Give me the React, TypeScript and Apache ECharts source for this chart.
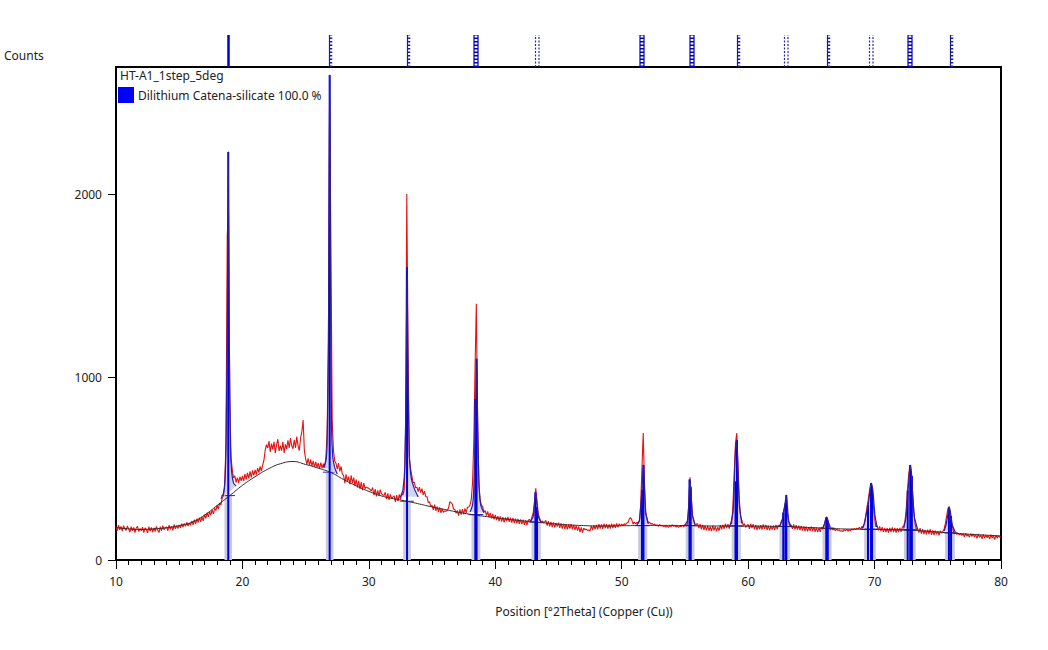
import React, { useEffect, useRef } from 'react';
import * as echarts from 'echarts';

// ---------- DATA ----------
const obsStart = 10;
const obsStep = 0.1;
// observed counts, 10.0 .. 80.0 every 0.1 degree (one row per degree)
const observedCounts = [
  182,160,190,165,184,158,188,170,162,186,
  170,152,182,160,178,150,175,184,155,172,
  160,180,150,176,168,148,182,158,178,152,
  176,155,184,162,150,182,160,188,165,178,
  180,160,190,168,184,162,194,170,188,172,
  192,176,198,180,200,184,206,186,202,190,
  214,192,220,198,226,204,232,208,236,214,
  248,228,258,236,266,244,274,252,282,270,
  300,278,312,300,338,352,420,640,1780,1900,
  880,560,490,448,460,424,450,420,455,432,
  460,432,470,440,476,446,484,452,490,462,
  492,466,502,478,512,486,520,545,600,630,
  612,650,590,636,604,646,584,630,660,596,
  625,598,646,585,632,606,654,612,666,624,
  608,656,612,674,624,598,668,700,765,596,
  552,522,556,518,548,514,542,508,536,506,
  530,498,532,502,526,505,560,700,1200,2520,
  1700,760,600,540,528,496,530,484,512,470,
  462,420,468,428,456,414,462,420,450,406,
  440,396,432,388,426,382,420,390,398,394,
  392,385,378,396,354,388,348,380,350,384,
  362,356,352,370,332,364,328,358,336,344,
  350,318,354,322,358,330,362,356,385,700,
  2000,1150,560,500,460,424,424,394,398,374,
  398,368,390,356,376,346,346,314,318,292,
  298,274,302,268,292,262,288,258,280,260,
  268,266,270,284,318,314,306,278,276,256,
  270,242,276,248,278,250,282,258,288,290,
  300,330,420,650,1050,1400,760,420,330,300,
  292,262,270,242,266,234,258,228,252,222,
  246,218,240,212,238,210,234,206,232,212,
  236,208,232,204,230,202,226,200,224,198,
  222,196,220,192,218,190,216,222,210,236,
  258,320,392,325,252,230,207,214,204,208,
  216,188,212,184,208,180,206,178,202,182,
  204,176,200,172,198,170,196,168,194,172,
  196,168,192,164,188,160,184,152,178,150,
  174,166,168,162,164,160,186,164,190,168,
  192,168,196,172,194,170,198,174,196,172,
  194,172,198,174,196,176,200,178,198,186,
  196,188,198,192,202,205,225,232,218,196,
  208,197,206,202,216,300,500,694,420,260,
  230,202,206,197,200,192,196,188,192,184,
  194,186,188,182,186,180,184,178,188,182,
  192,184,188,180,186,178,184,182,190,180,
  194,186,196,300,452,340,240,212,188,196,
  198,174,196,168,192,164,188,162,186,160,
  182,158,188,162,184,156,180,160,190,168,
  192,170,198,174,196,172,200,200,300,480,
  640,694,520,330,240,218,190,198,178,188,
  194,170,198,174,196,168,192,164,188,168,
  190,166,194,170,192,164,188,162,186,166,
  188,164,192,168,190,182,208,220,260,290,
  300,250,212,182,192,170,194,168,190,166,
  188,164,186,160,184,158,182,156,180,160,
  182,158,180,154,178,152,176,154,178,168,
  186,215,237,215,190,164,174,164,170,160,
  168,162,164,158,160,156,166,160,168,158,
  166,160,170,164,172,166,174,170,178,168,
  183,177,205,240,290,330,380,420,400,300,
  230,182,186,162,184,158,180,154,176,152,
  174,150,176,154,178,152,176,150,174,152,
  176,154,180,185,210,280,380,470,519,480,
  380,270,200,164,173,150,174,144,168,142,
  164,140,166,142,168,138,162,136,160,140,
  158,134,160,146,156,170,200,240,280,290,
  250,200,168,142,150,140,146,138,144,134,
  144,126,146,130,140,124,144,128,142,126,
  138,118,142,124,136,116,140,120,136,122,
  134,114,138,120,132,112,136,118,134,124,
  126,
];

// background, one value per degree 10..80
const bgStart = 10;
const backgroundCounts = [
  178,170,167,170,176,188,206,245,298,352,
  408,455,496,526,538,522,502,478,440,405,
  375,350,334,321,306,290,276,262,250,240,
  231,223,215,208,202,196,191,188,186,186,
  187,188,189,189,189,188,187,186,186,186,
  185,185,184,183,180,177,174,171,169,168,
  167,166,165,162,158,153,148,143,139,135,
  131,
];

// calculated profile around each peak: [2theta, counts]
const calcGroups: number[][][] = [
  [[18.3,335],[18.5,365],[18.6,410],[18.7,620],[18.8,1250],[18.88,2230],[18.95,1280],[19.05,620],[19.15,480],[19.3,420],[19.5,405]],
  [[26.4,505],[26.6,540],[26.7,640],[26.8,1150],[26.9,2650],[26.97,1500],[27.05,720],[27.15,560],[27.3,505],[27.5,470]],
  [[32.5,345],[32.7,385],[32.85,520],[32.95,1000],[33.02,1600],[33.1,1000],[33.2,580],[33.35,450],[33.6,390],[33.9,345]],
  [[38.0,262],[38.2,300],[38.3,390],[38.42,700],[38.52,1100],[38.62,700],[38.72,400],[38.85,300],[39.1,258]],
  [[42.8,212],[43.0,240],[43.1,300],[43.2,370],[43.3,300],[43.42,235],[43.6,208]],
  [[51.2,192],[51.4,215],[51.5,290],[51.6,383],[51.66,470],[51.72,519],[51.8,390],[51.9,255],[52.1,198]],
  [[55.0,190],[55.2,215],[55.3,300],[55.4,440],[55.5,345],[55.6,245],[55.8,195]],
  [[58.6,190],[58.8,260],[58.9,420],[59.0,600],[59.1,655],[59.2,480],[59.3,300],[59.5,200]],
  [[62.5,186],[62.7,220],[62.8,265],[62.9,300],[63.02,355],[63.12,280],[63.22,210],[63.4,186]],
  [[65.9,175],[66.05,200],[66.15,228],[66.25,232],[66.35,205],[66.5,178]],
  [[69.0,172],[69.2,200],[69.35,255],[69.5,300],[69.6,360],[69.75,420],[69.88,370],[70.02,250],[70.2,180]],
  [[72.3,172],[72.5,240],[72.6,330],[72.7,430],[72.82,519],[72.92,470],[73.02,350],[73.15,235],[73.4,170]],
  [[75.5,158],[75.65,190],[75.8,250],[75.9,290],[76.0,262],[76.15,192],[76.4,150]],
];

// reference reflections
const reflectionPos = [18.88,26.9,33.02,38.42,38.52,43.17,43.3,51.6,51.72,55.36,55.46,59.0,59.12,62.78,62.95,63.02,66.18,66.3,69.48,69.72,69.8,72.62,72.82,72.95,75.88,76.05];
const reflectionTop = [2230,2650,1600,880,1100,370,290,383,519,440,400,430,655,260,310,355,232,215,300,420,390,380,519,460,290,240];
const reflectionBase = [352,480,321,248,248,208,207,188,188,188,188,186,186,184,183,183,174,174,168,168,168,165,165,164,150,148];

// peak list markers above the plot
const markerPos = [18.85,26.88,33.0,38.38,43.18,51.55,55.45,59.1,62.85,66.22,69.55,72.72,75.95];
const markerKind = ['s','c','c','l','d','l','l','c','d','c','d','l','c'];

const yTicks = [0, 1000, 2000];

const FONT = '"Noto Sans", "Liberation Sans", sans-serif';

export default function App() {
  const ref = useRef<HTMLDivElement>(null);
  useEffect(() => {
    if (!ref.current) return;
    const chart = echarts.init(ref.current, null, { renderer: 'svg' });
    const observed = observedCounts.map((y, i) => [+(obsStart + i * obsStep).toFixed(2), y]);
    const background = backgroundCounts.map((y, i) => [bgStart + i, y]);
    const BAND = 0.3;

    const calcSeries = calcGroups.map((g) => ({
      type: 'line', xAxisIndex: 0, yAxisIndex: 0, data: g, symbol: 'none', smooth: 0.2,
      lineStyle: { color: '#2a1fa0', width: 1.2 }, z: 6, silent: true,
    }));

    const option: any = {
      animation: false,
      backgroundColor: '#ffffff',
      textStyle: { fontFamily: FONT },
      grid: [
        { left: 116, top: 67, width: 885, height: 493, show: true, borderColor: '#000', borderWidth: 2, backgroundColor: 'transparent', outerBoundsMode: 'none' },
        { left: 116, top: 35, width: 885, height: 32, show: false, outerBoundsMode: 'none' },
      ],
      xAxis: [
        {
          type: 'value', gridIndex: 0, min: 10, max: 80, interval: 10,
          axisLine: { show: true, onZero: false, lineStyle: { color: '#000', width: 2 } },
          axisTick: { show: true, length: 9, lineStyle: { color: '#000', width: 1 } },
          minorTick: { show: true, splitNumber: 10, length: 5, lineStyle: { color: '#000', width: 1 } },
          axisLabel: { margin: 15, fontSize: 12, color: '#222', fontFamily: FONT, formatter: (v: number) => String(v) },
          splitLine: { show: false }, minorSplitLine: { show: false },
        },
        { type: 'value', gridIndex: 1, min: 10, max: 80, show: false },
      ],
      yAxis: [
        {
          type: 'value', gridIndex: 0, min: 0, max: 2694, interval: 1000,
          axisLine: { show: true, lineStyle: { color: '#000', width: 2 } },
          axisTick: { show: true, length: 8, customValues: yTicks, lineStyle: { color: '#000', width: 1 } },
          axisLabel: { margin: 14, fontSize: 12, color: '#222', fontFamily: FONT, customValues: yTicks, formatter: (v: number) => String(v) },
          splitLine: { show: false },
        },
        { type: 'value', gridIndex: 1, min: 0, max: 1, show: false },
      ],
      series: [
        {
          type: 'custom', xAxisIndex: 0, yAxisIndex: 0, z: 1, silent: true,
          data: reflectionPos.map((p, i) => [p, reflectionBase[i]]),
          encode: { x: 0, y: 1 },
          renderItem: (params: any, api: any) => {
            const x = api.value(0), base = api.value(1);
            const a = api.coord([x - BAND, base]);
            const b = api.coord([x + BAND, 0]);
            return {
              type: 'group', children: [
                { type: 'rect', shape: { x: a[0], y: a[1], width: b[0] - a[0], height: b[1] - a[1] }, style: { fill: '#c8cade' } },
                { type: 'line', shape: { x1: a[0] - 3, y1: a[1], x2: b[0] + 3, y2: a[1] }, style: { stroke: '#2a2ab0', lineWidth: 1 } },
              ],
            };
          },
        },
        {
          type: 'custom', xAxisIndex: 0, yAxisIndex: 0, z: 2, silent: true,
          data: calcGroups.map((g) => [g[0][0], g[0][1]]),
          encode: { x: 0, y: 1 },
          renderItem: (params: any, api: any) => {
            const pts = calcGroups[params.dataIndex].map((p) => api.coord(p));
            return { type: 'polygon', shape: { points: pts }, style: { fill: '#d2d3f6' } };
          },
        },
        {
          type: 'line', xAxisIndex: 0, yAxisIndex: 0, data: observed, symbol: 'none', z: 3, silent: true,
          lineStyle: { color: '#e81010', width: 1.1 },
        },
        {
          type: 'line', xAxisIndex: 0, yAxisIndex: 0, data: background, symbol: 'none', smooth: true, z: 4, silent: true,
          lineStyle: { color: '#3a2626', width: 1 },
        },
        {
          type: 'custom', xAxisIndex: 0, yAxisIndex: 0, z: 5, silent: true,
          data: reflectionPos.map((p, i) => [p, reflectionTop[i]]),
          encode: { x: 0, y: 1 },
          renderItem: (params: any, api: any) => {
            const x = api.value(0), top = api.value(1);
            const a = api.coord([x, 0]);
            const b = api.coord([x, top]);
            return { type: 'line', shape: { x1: a[0], y1: a[1], x2: b[0], y2: b[1] }, style: { stroke: '#0000e0', lineWidth: 2 } };
          },
        },
        ...calcSeries,
        {
          type: 'custom', xAxisIndex: 1, yAxisIndex: 1, z: 5, silent: true,
          data: markerPos.map((p) => [p, 1]),
          encode: { x: 0, y: 1 },
          renderItem: (params: any, api: any) => {
            const x = api.value(0);
            const kind = markerKind[params.dataIndex];
            const p0 = api.coord([x, 0]);
            const p1 = api.coord([x, 1]);
            const y0 = p0[1], y1 = p1[1];
            const px = Math.round(p0[0]) + 0.5;
            const ln = (xx: number, w: number, color: string, dash?: number[]) => ({
              type: 'line', shape: { x1: xx, y1: y0, x2: xx, y2: y1 },
              style: { stroke: color, lineWidth: w, lineDash: dash || null },
            });
            let children: any[] = [];
            if (kind === 's') children = [ln(px, 2.5, '#0000d0')];
            else if (kind === 'c') children = [ln(px, 1.2, '#1a1a8a'), ln(px + 1.5, 2.5, '#1a1ab0', [1.5, 2])];
            else if (kind === 'l') children = [ln(px - 1.5, 1.2, '#0000c0'), ln(px + 2.5, 1.2, '#0000c0'), ln(px + 0.5, 4, '#0000c0', [1.5, 2])];
            else children = [ln(px, 1.2, '#2a2aa0', [2, 1.5]), ln(px + 3.5, 1.2, '#2a2aa0', [2, 1.5])];
            return { type: 'group', children };
          },
        },
      ],
      graphic: [
        { type: 'text', left: 4, top: 49, style: { text: 'Counts', fontSize: 12, fill: '#222', fontFamily: FONT } },
        { type: 'text', x: 584, y: 611, style: { text: 'Position [°2Theta] (Copper (Cu))', fontSize: 12, fill: '#222', fontFamily: FONT, textAlign: 'center', textVerticalAlign: 'middle' } },
        { type: 'text', x: 120, y: 75, z: 20, style: { text: 'HT-A1_1step_5deg', fontSize: 12, fill: '#222', fontFamily: FONT, textVerticalAlign: 'middle' } },
        { type: 'rect', shape: { x: 118, y: 87, width: 16, height: 16 }, z: 20, style: { fill: '#0000ff' } },
        { type: 'text', x: 138, y: 95, z: 20, style: { text: 'Dilithium Catena-silicate 100.0 %', fontSize: 12, fill: '#222', fontFamily: FONT, textVerticalAlign: 'middle' } },
      ],
    };
    chart.setOption(option);
    return () => chart.dispose();
  }, []);
  return <div ref={ref} style={{ position: 'fixed', left: 0, top: 0, width: 1048, height: 650, background: '#fff' }} />;
}
